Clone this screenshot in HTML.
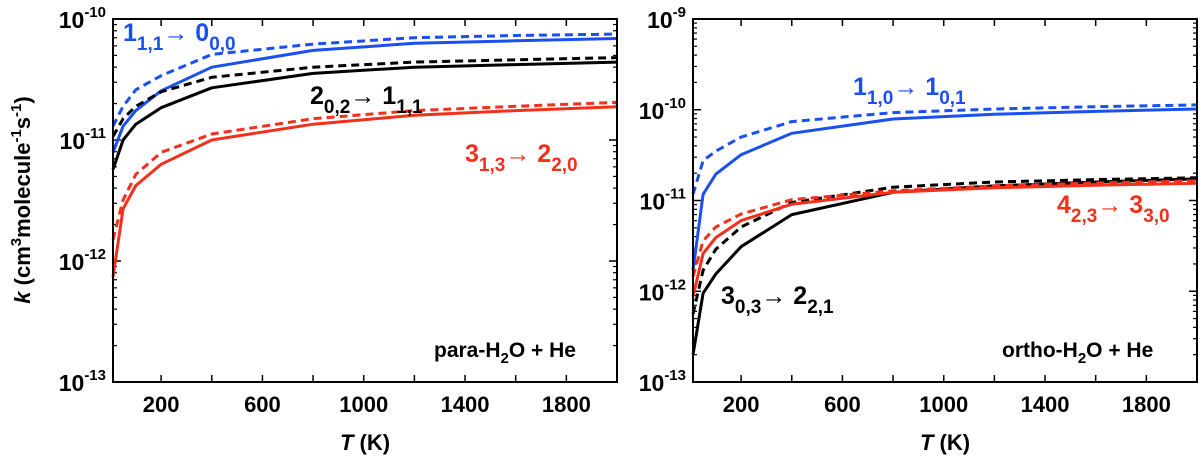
<!DOCTYPE html>
<html><head><meta charset="utf-8"><style>
html,body{margin:0;padding:0;background:#fff;}
svg text{font-family:"Liberation Sans",sans-serif;font-weight:bold;}
</style></head><body>
<svg id="chart" width="1200" height="458" viewBox="0 0 1200 458" xmlns="http://www.w3.org/2000/svg"></svg>
<script>
// ---- data ----
const temps = [10, 50, 100, 200, 400, 800, 1200, 1600, 2000];
const paraBlueSolid  = [7.9e-12, 1.3e-11, 1.75e-11, 2.55e-11, 4.0e-11, 5.5e-11, 6.3e-11, 6.6e-11, 6.9e-11];
const paraBlueDash   = [1.3e-11, 1.9e-11, 2.6e-11, 3.4e-11, 5.1e-11, 6.2e-11, 7.0e-11, 7.3e-11, 7.5e-11];
const paraBlackSolid = [5.7e-12, 1.0e-11, 1.35e-11, 1.85e-11, 2.7e-11, 3.55e-11, 4.0e-11, 4.2e-11, 4.4e-11];
const paraBlackDash  = [1.07e-11, 1.5e-11, 1.9e-11, 2.5e-11, 3.3e-11, 4.0e-11, 4.4e-11, 4.6e-11, 4.8e-11];
const paraRedSolid   = [7.4e-13, 2.7e-12, 4.2e-12, 6.3e-12, 1.0e-11, 1.35e-11, 1.6e-11, 1.75e-11, 1.88e-11];
const paraRedDash    = [1.5e-12, 3.2e-12, 5.2e-12, 7.9e-12, 1.12e-11, 1.5e-11, 1.75e-11, 1.9e-11, 2.05e-11];
const orthoBlueSolid  = [1.7e-12, 1.17e-11, 1.95e-11, 3.2e-11, 5.5e-11, 7.9e-11, 8.9e-11, 9.6e-11, 1.02e-10];
const orthoBlueDash   = [1.17e-11, 2.75e-11, 3.5e-11, 5.0e-11, 7.4e-11, 9.3e-11, 1.02e-10, 1.08e-10, 1.13e-10];
const orthoBlackSolid = [2.0e-13, 9.5e-13, 1.55e-12, 3.1e-12, 7.0e-12, 1.23e-11, 1.45e-11, 1.6e-11, 1.73e-11];
const orthoBlackDash  = [5.6e-13, 1.7e-12, 2.9e-12, 5.1e-12, 9.5e-12, 1.4e-11, 1.6e-11, 1.7e-11, 1.78e-11];
const orthoRedSolid   = [8.7e-13, 2.6e-12, 3.9e-12, 6.0e-12, 9.1e-12, 1.23e-11, 1.38e-11, 1.47e-11, 1.55e-11];
const orthoRedDash    = [1.45e-12, 3.6e-12, 5.1e-12, 7.1e-12, 1.02e-11, 1.28e-11, 1.45e-11, 1.56e-11, 1.65e-11];
const xTickLabels = [200, 600, 1000, 1400, 1800];
const paraDecades = [-13, -12, -11, -10];
const orthoDecades = [-13, -12, -11, -10, -9];

const NS = "http://www.w3.org/2000/svg";
const svg = document.getElementById('chart');
function el(tag, attrs, parent) {
  const e = document.createElementNS(NS, tag);
  for (const k in attrs) e.setAttribute(k, attrs[k]);
  (parent || svg).appendChild(e);
  return e;
}
function makePanel(p) {
  const g = el('g', {});
  
  
  const xs = t => p.x0 + (t - 10) / (2000 - 10) * (p.x1 - p.x0);
  const ys = v => p.y1 - (Math.log10(v) - p.lmin) / (p.lmax - p.lmin) * (p.y1 - p.y0);
  for (let t = 200; t <= 1800; t += 200) {
    const X = xs(t);
    const a = el('line', {x1: X, x2: X, y1: p.y1, y2: p.y1 - 7, stroke: '#000', 'stroke-width': 1.5}, g);
    
    
    el('line', {x1: X, x2: X, y1: p.y0, y2: p.y0 + 7, stroke: '#000', 'stroke-width': 1.5}, g);
  }
  xTickLabels.forEach(t => {
    const tx = el('text', {x: xs(t), y: 412, 'text-anchor': 'middle', 'font-size': 22, fill: '#000'}, g);
    tx.textContent = t;
    
    
  });
  for (let d = p.lmin; d < p.lmax; d++) {
    for (let m = 2; m <= 9; m++) {
      const Y = ys(m * Math.pow(10, d));
      el('line', {x1: p.x0, x2: p.x0 + 4, y1: Y, y2: Y, stroke: '#000', 'stroke-width': 1.2}, g);
      el('line', {x1: p.x1, x2: p.x1 - 4, y1: Y, y2: Y, stroke: '#000', 'stroke-width': 1.2}, g);
    }
  }
  p.decades.forEach(d => {
    const Y = ys(Math.pow(10, d));
    el('line', {x1: p.x0, x2: p.x0 + 8, y1: Y, y2: Y, stroke: '#000', 'stroke-width': 1.5}, g);
    el('line', {x1: p.x1, x2: p.x1 - 8, y1: Y, y2: Y, stroke: '#000', 'stroke-width': 1.5}, g);
    const tx = el('text', {x: p.x0 - 7, y: Y + 9, 'text-anchor': 'end', 'font-size': 23, fill: '#000'}, g);
    tx.innerHTML = '10<tspan dy="-11" font-size="15">' + d + '</tspan>';
    
    
  });
  p.series.forEach(s => {
    const pts = temps.map((t, i) => xs(t).toFixed(1) + ',' + ys(s.v[i]).toFixed(1)).join(' ');
    const l = el('polyline', {points: pts, fill: 'none', stroke: s.c, 'stroke-width': 3, 'stroke-linejoin': 'round'}, g);
    if (s.dash) l.setAttribute('stroke-dasharray', '8,5');
    
    
  });
  const fr = el('rect', {x: p.x0, y: p.y0, width: p.x1 - p.x0, height: p.y1 - p.y0, fill: 'none', stroke: '#000', 'stroke-width': 2}, g);
  
  
  const xt = el('text', {x: (p.x0 + p.x1) / 2, y: 450, 'text-anchor': 'middle', 'font-size': 22, fill: '#000'}, g);
  xt.innerHTML = '<tspan font-style="italic">T</tspan> (K)';
  
  
  p.labels.forEach(L => {
    const tx = el('text', {x: L.x, y: L.y, 'font-size': L.fs || 25, fill: L.c}, g);
    tx.innerHTML = L.h;
    
    
  });
}
function tr(a, b, c, d) {
  return a + '<tspan dy="9" font-size="19">' + b + '</tspan><tspan dy="-9">\u2192 ' + c + '</tspan><tspan dy="9" font-size="19">' + d + '</tspan>';
}
const BLUE = '#1a4ff0', RED = '#f2301c';
makePanel({name: 'para-panel', x0: 113, x1: 617, y0: 19, y1: 382, lmin: -13, lmax: -10, decades: paraDecades,
  series: [
    {v: paraBlueSolid, c: BLUE, n: 'para-blue-solid'}, {v: paraBlueDash, c: BLUE, dash: 1, n: 'para-blue-dashed'},
    {v: paraBlackSolid, c: '#000', n: 'para-black-solid'}, {v: paraBlackDash, c: '#000', dash: 1, n: 'para-black-dashed'},
    {v: paraRedSolid, c: RED, n: 'para-red-solid'}, {v: paraRedDash, c: RED, dash: 1, n: 'para-red-dashed'}],
  labels: [
    {x: 123, y: 41, c: BLUE, h: tr('1', '1,1', '0', '0,0'), n: 'label-1-1-1'},
    {x: 310, y: 104, c: '#000', h: tr('2', '0,2', '1', '1,1'), n: 'label-2-0-2'},
    {x: 465, y: 162, c: RED, h: tr('3', '1,3', '2', '2,0'), n: 'label-3-1-3'},
    {x: 434, y: 357, c: '#000', fs: 21, h: 'para-H<tspan dy="6" font-size="15">2</tspan><tspan dy="-6">O + He</tspan>', n: 'para-panel-title'}]
});
makePanel({name: 'ortho-panel', x0: 693, x1: 1197, y0: 19, y1: 382, lmin: -13, lmax: -9, decades: orthoDecades,
  series: [
    {v: orthoBlueSolid, c: BLUE, n: 'ortho-blue-solid'}, {v: orthoBlueDash, c: BLUE, dash: 1, n: 'ortho-blue-dashed'},
    {v: orthoBlackSolid, c: '#000', n: 'ortho-black-solid'}, {v: orthoBlackDash, c: '#000', dash: 1, n: 'ortho-black-dashed'},
    {v: orthoRedSolid, c: RED, n: 'ortho-red-solid'}, {v: orthoRedDash, c: RED, dash: 1, n: 'ortho-red-dashed'}],
  labels: [
    {x: 853, y: 95, c: BLUE, h: tr('1', '1,0', '1', '0,1'), n: 'label-1-1-0'},
    {x: 1057, y: 213, c: RED, h: tr('4', '2,3', '3', '3,0'), n: 'label-4-2-3'},
    {x: 721, y: 304, c: '#000', h: tr('3', '0,3', '2', '2,1'), n: 'label-3-0-3'},
    {x: 1002, y: 357, c: '#000', fs: 21, h: 'ortho-H<tspan dy="6" font-size="15">2</tspan><tspan dy="-6">O + He</tspan>', n: 'ortho-panel-title'}]
});
const yt = el('text', {x: 0, y: 0, 'text-anchor': 'middle', 'font-size': 22, fill: '#000', transform: 'translate(30,200) rotate(-90)'});
yt.innerHTML = '<tspan font-style="italic">k</tspan> (cm<tspan dy="-9" font-size="15">3</tspan><tspan dy="9">molecule</tspan><tspan dy="-9" font-size="15">-1</tspan><tspan dy="9">s</tspan><tspan dy="-9" font-size="15">-1</tspan><tspan dy="9">)</tspan>';


</script>
</body></html>
